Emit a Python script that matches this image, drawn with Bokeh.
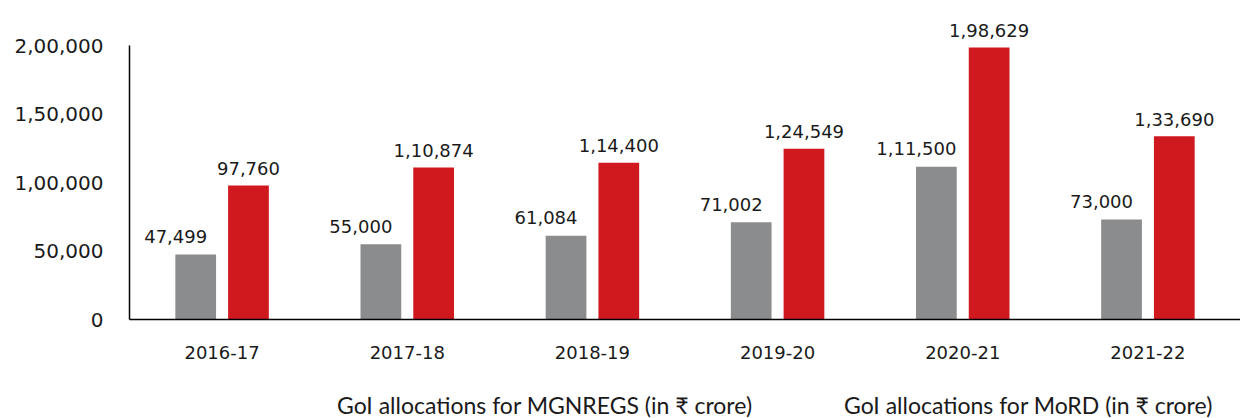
from bokeh.plotting import figure
from bokeh.models import (FactorRange, Range1d, ColumnDataSource, FixedTicker,
                          Legend, LegendItem)
from bokeh.layouts import column
from bokeh.transform import dodge
from bokeh.core.properties import value
from bokeh.embed import file_html
from bokeh.resources import INLINE

years = ["2016-17", "2017-18", "2018-19", "2019-20", "2020-21", "2021-22"]
mgnregs = [47499, 55000, 61084, 71002, 111500, 73000]
mord = [97760, 110874, 114400, 124549, 198629, 133690]
y_ticks = [0, 50000, 100000, 150000, 200000]
y_tick_labels = ["0", "50,000", "1,00,000", "1,50,000", "2,00,000"]
series_names = ["GoI allocations for MGNREGS (in \u20b9 crore)",
                "GoI allocations for MoRD (in \u20b9 crore)"]


def indian(n):
    s = str(int(n))
    if len(s) <= 3:
        return s
    head, tail = s[:-3], s[-3:]
    parts = []
    while len(head) > 2:
        parts.insert(0, head[-2:])
        head = head[:-2]
    if head:
        parts.insert(0, head)
    return ",".join(parts + [tail])


GREY = "#8b8c8e"
RED = "#d0181f"
TXT = "#1a1a1a"

# layout (pixels)
W, H = 1240, 418
TOP, BOTTOM_Y, LEFT = 5, 319, 129
MAIN_H = 386          # height of the chart canvas; the legend strip fills the rest
AXIS_PX = 274         # pixels spanned by 0..2,00,000
y_max = y_ticks[-1] * (BOTTOM_Y - TOP) / AXIS_PX

src = ColumnDataSource(dict(
    year=years, mg=mgnregs, mo=mord,
    mg_lab=[indian(v) for v in mgnregs],
    mo_lab=[indian(v) for v in mord],
))

p = figure(x_range=FactorRange(*years, range_padding=0),
           y_range=Range1d(0, y_max),
           frame_width=W - LEFT, frame_height=BOTTOM_Y - TOP,
           output_backend="svg",
           toolbar_location=None,
           min_border_left=LEFT, min_border_right=0,
           min_border_top=TOP, min_border_bottom=MAIN_H - BOTTOM_Y)

p.background_fill_color = None
p.border_fill_color = "white"
p.outline_line_color = None
p.xgrid.grid_line_color = None
p.ygrid.grid_line_color = None

p.vbar(x=dodge("year", -0.1425, range=p.x_range), top="mg", width=0.22,
       source=src, fill_color=GREY, line_color=None)
p.vbar(x=dodge("year", 0.1425, range=p.x_range), top="mo", width=0.22,
       source=src, fill_color=RED, line_color=None)

p.text(x=dodge("year", -0.1425, range=p.x_range), y="mg", text="mg_lab",
       source=src, x_offset=-20, y_offset=-18, text_align="center",
       text_baseline="alphabetic", text_font=value("DejaVu Sans"),
       text_font_size="18px", text_color=TXT)
p.text(x=dodge("year", 0.1425, range=p.x_range), y="mo", text="mo_lab",
       source=src, x_offset=0, y_offset=-17, text_align="center",
       text_baseline="alphabetic", text_font=value("DejaVu Sans"),
       text_font_size="18px", text_color=TXT)

# y axis
p.yaxis.ticker = FixedTicker(ticks=y_ticks)
p.yaxis.bounds = (y_ticks[0], y_ticks[-1])
p.yaxis.major_label_overrides = {t: l for t, l in zip(y_ticks, y_tick_labels)}
p.yaxis.major_tick_line_color = None
p.yaxis.minor_tick_line_color = None
p.yaxis.axis_line_color = "black"
p.yaxis.axis_line_width = 1.5
p.yaxis.major_label_standoff = 20
p.yaxis.major_label_text_font = "DejaVu Sans"
p.yaxis.major_label_text_font_size = "20px"
p.yaxis.major_label_text_color = TXT

# x axis
p.xaxis.major_tick_line_color = None
p.xaxis.minor_tick_line_color = None
p.xaxis.axis_line_color = "black"
p.xaxis.axis_line_width = 1.5
p.xaxis.major_label_standoff = 20
p.xaxis.major_label_text_font = "DejaVu Sans"
p.xaxis.major_label_text_font_size = "18px"
p.xaxis.major_label_text_color = TXT

# legend strip below the chart
leg = figure(width=W, height=H - MAIN_H,
             x_range=Range1d(0, 1), y_range=Range1d(0, 1),
             output_backend="svg", toolbar_location=None,
             x_axis_location=None, y_axis_location=None,
             min_border_left=0, min_border_right=0,
             min_border_top=0, min_border_bottom=0)
leg.outline_line_color = None
leg.background_fill_color = None
leg.border_fill_color = "white"
leg.grid.visible = False

k1 = leg.vbar(x=[], top=[], width=0.1, fill_color=GREY, line_color=None)
k2 = leg.vbar(x=[], top=[], width=0.1, fill_color=RED, line_color=None)

lg = Legend(items=[LegendItem(label=series_names[0], renderers=[k1]),
                   LegendItem(label=series_names[1], renderers=[k2])],
            location=(188, -1), orientation="horizontal",
            padding=0, margin=0, spacing=21,
            glyph_width=15, glyph_height=15, label_height=20,
            label_width=466, label_standoff=5, border_line_color=None,
            background_fill_alpha=0,
            label_text_font="Lato", label_text_font_size="23px",
            label_text_color=TXT)
leg.add_layout(lg, "center")

layout = column(p, leg, spacing=0)
open("out.html", "w").write(file_html(layout, INLINE))
